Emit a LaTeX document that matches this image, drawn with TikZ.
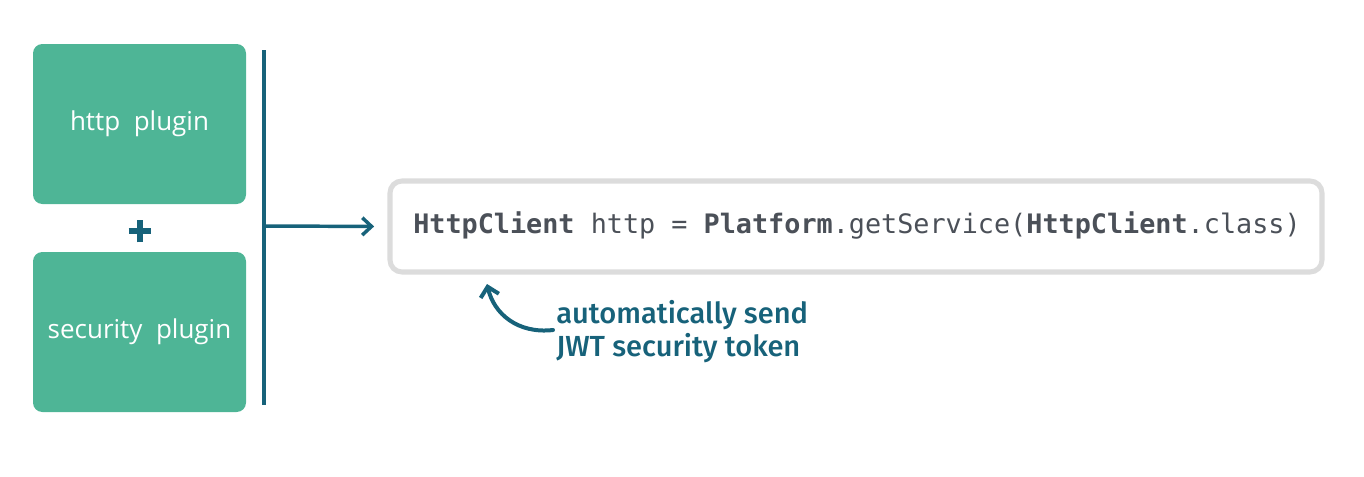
\documentclass[tikz,border=0pt]{standalone}
\usepackage{fontspec}
\setmainfont{Open Sans}
\setmonofont{DejaVu Sans Mono}
\newfontfamily\handfont{Fira Sans Medium}
\usetikzlibrary{arrows.meta}
\definecolor{plugGreen}{HTML}{4EB596}
\definecolor{teal}{HTML}{17627A}
\definecolor{boxGrey}{HTML}{DCDCDC}
\definecolor{codeText}{HTML}{4B5058}
\tikzset{
  plugbox/.style={fill=plugGreen, rounded corners=7pt, minimum width=213*0.75pt, minimum height=160*0.75pt, inner sep=0pt, text=white, font=\fontsize{19.5}{22}\selectfont},
  codebox/.style={draw=boxGrey, line width=3.8pt, fill=white, rounded corners=9pt, minimum width=932*0.75pt, minimum height=91*0.75pt, inner sep=0pt},
  conn/.style={draw=teal, line width=2.6pt},
  plusbar/.style={draw=teal, line width=5pt},
}
\begin{document}
\begin{tikzpicture}[x=0.75pt,y=-0.75pt]
\useasboundingbox (0,0) rectangle (1364,476);
\node[plugbox] (http) at (139.5,124) {http\ \ plugin};
\node[plugbox] (sec) at (139.5,332) {security\ \ plugin};
\coordinate (plus) at (140,231);
\draw[plusbar] ([xshift=-8.5pt]plus) -- ([xshift=8.5pt]plus);
\draw[plusbar] ([yshift=-8.5pt]plus) -- ([yshift=8.5pt]plus);
\coordinate (vt) at (264,50);
\coordinate (vb) at (264,405);
\coordinate (vm) at (264,226);
\draw[conn] (vt) -- (vb);
\node[codebox] (code) at (856,226.5) {};
\node[text=codeText, font=\fontsize{20.1}{22}\ttfamily\selectfont, anchor=west, inner sep=0pt] (codetxt) at (413,225)
  {\textbf{HttpClient} http = \textbf{Platform}.getService(\textbf{HttpClient}.class)};
\draw[conn, shorten >=10pt, -{Straight Barb[length=7pt,width=13pt]}] (vm) -- (code.west);
\node[text=teal, font=\handfont\fontsize{21.8}{25}\selectfont, align=left, anchor=north west, inner sep=0pt] (note) at (556,300)
  {automatically send\\JWT security token};
\coordinate (tail) at (553,330);
\coordinate (tip) at (487,284);
\draw[conn, line width=3pt, line cap=round, -{Straight Barb[length=7pt,width=14pt]}] (tail) .. controls (518,334) and (494,314) .. (tip);
\end{tikzpicture}
\end{document}
